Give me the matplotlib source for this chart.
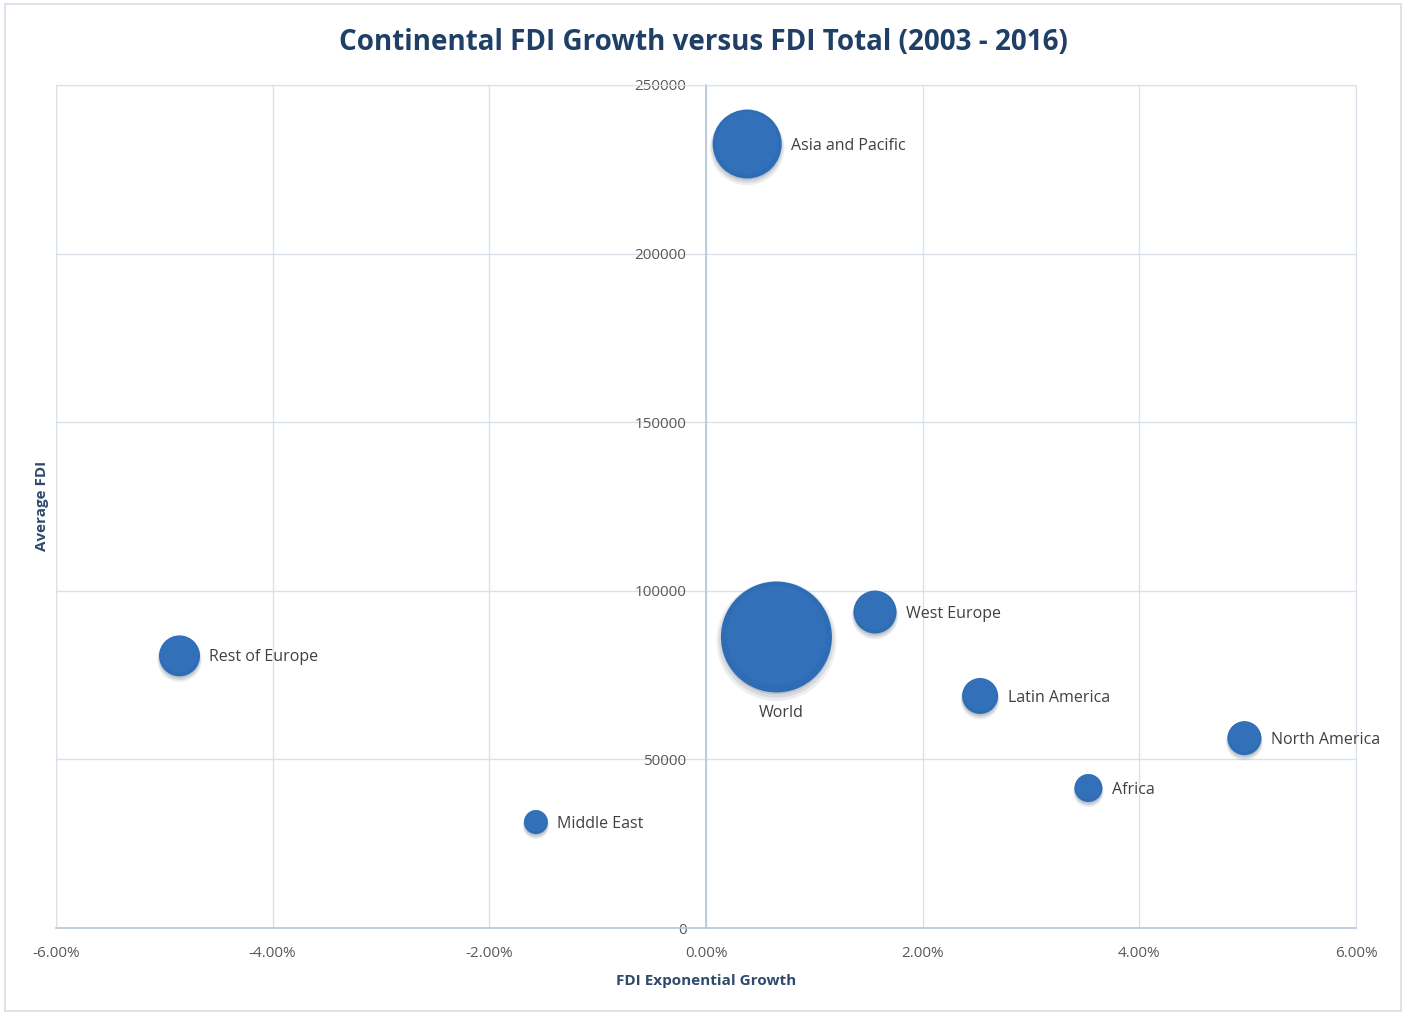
import matplotlib
matplotlib.use("Agg")
import matplotlib.pyplot as plt
from matplotlib.ticker import FuncFormatter
from matplotlib.patches import Rectangle
from matplotlib.transforms import offset_copy
import numpy as np

plt.rcParams['font.family'] = ['Open Sans', 'DejaVu Sans']

regions = ["Asia and Pacific", "World", "West Europe", "Rest of Europe",
           "Latin America", "North America", "Africa", "Middle East"]
growth_pct = [0.38, 0.65, 1.56, -4.86, 2.53, 4.97, 3.53, -1.57]
avg_fdi = [232500, 86300, 93700, 80700, 68800, 56300, 41500, 31400]
bubble_size = [1190, 3080, 462, 420, 324, 289, 196, 144]
label_pos = ["right", "below", "right", "right", "right", "right", "right", "right"]

x_ticks = [-6, -4, -2, 0, 2, 4, 6]
y_ticks = [0, 50000, 100000, 150000, 200000, 250000]

W, H, DPI = 1407, 1014, 100
fig = plt.figure(figsize=(W / DPI, H / DPI), dpi=DPI)
fig.patch.set_facecolor("white")

# outer chart border
fig.add_artist(Rectangle((5 / W, 3 / H), (1401 - 5) / W, (1010 - 3) / H,
                         transform=fig.transFigure, fill=False,
                         edgecolor="#D6DEE8", linewidth=1.2))

ax = fig.add_axes([56 / W, (H - 928) / H, 1300 / W, (928 - 85) / H])
ax.set_xlim(-6, 6)
ax.set_ylim(0, 250000)

grid_c = "#D9E1EA"
axis_c = "#B8C6D6"
ax.set_yticks(y_ticks)
ax.set_xticks(x_ticks)
ax.grid(True, color=grid_c, linewidth=1.0, zorder=0)
ax.set_axisbelow(True)
for s in ["top", "right"]:
    ax.spines[s].set_color(grid_c)
ax.spines["left"].set_position(("data", 0))
ax.spines["left"].set_color(axis_c)
ax.spines["bottom"].set_color(axis_c)
ax.spines["left"].set_linewidth(1.2)
ax.spines["bottom"].set_linewidth(1.2)
ax.tick_params(axis="both", length=0, labelsize=11, labelcolor="#595959")
ax.tick_params(axis="x", pad=13)
ax.tick_params(axis="y", pad=14)
ax.xaxis.set_major_formatter(FuncFormatter(lambda v, p: f"{v:.2f}%"))
ax.yaxis.set_major_formatter(FuncFormatter(lambda v, p: f"{int(v)}"))

# left frame line of the plot area
ax.axvline(-6, color=grid_c, linewidth=1.0, zorder=0)

# bubbles (area proportional to bubble size)
max_r_px = 55.5
sizes = np.array(bubble_size, dtype=float)
r_px = max_r_px * np.sqrt(sizes / sizes.max())
pt_per_px = 72.0 / DPI
s_pts = (2 * r_px * pt_per_px) ** 2

# soft shadow
for dy, a, grow in [(-4, 0.08, 1.08), (-3, 0.10, 1.04), (-2, 0.12, 1.0)]:
    tr = offset_copy(ax.transData, fig=fig, x=0, y=dy, units="dots")
    ax.scatter(growth_pct, avg_fdi, s=s_pts * grow ** 2, color="#1E2E48", alpha=a,
               linewidths=0, zorder=2, transform=tr)
ax.scatter(growth_pct, avg_fdi, s=s_pts, color="#2E6DB6", linewidths=0, zorder=3)
tr_hl = offset_copy(ax.transData, fig=fig, x=0, y=1.5, units="dots")
ax.scatter(growth_pct, avg_fdi, s=s_pts * 0.80, color="#3674BD", linewidths=0,
           zorder=4, transform=tr_hl, alpha=0.6)

for name, x, y, r, pos in zip(regions, growth_pct, avg_fdi, r_px, label_pos):
    if pos == "right":
        ax.annotate(name, (x, y), xytext=((r + 9.5) * pt_per_px, -1.5 * pt_per_px),
                    textcoords="offset points", ha="left", va="center",
                    fontsize=11.5, color="#404040", zorder=5)
    else:
        ax.annotate(name, (x, y), xytext=(5 * pt_per_px, -(r + 21) * pt_per_px),
                    textcoords="offset points", ha="center", va="center",
                    fontsize=11.5, color="#404040", zorder=5)

fig.text(703 / W, 1 - 42 / H, "Continental FDI Growth versus FDI Total (2003 - 2016)",
         ha="center", va="center", fontsize=20, fontweight="bold", color="#1F3F66")
fig.text(706 / W, 1 - 981 / H, "FDI Exponential Growth", ha="center", va="center",
         fontsize=11, fontweight="bold", color="#2F4A6B")
fig.text(42 / W, 1 - 506 / H, "Average FDI", ha="center", va="center", rotation=90,
         fontsize=11, fontweight="bold", color="#2F4A6B")

fig.savefig("out.png", dpi=DPI, facecolor="white")
